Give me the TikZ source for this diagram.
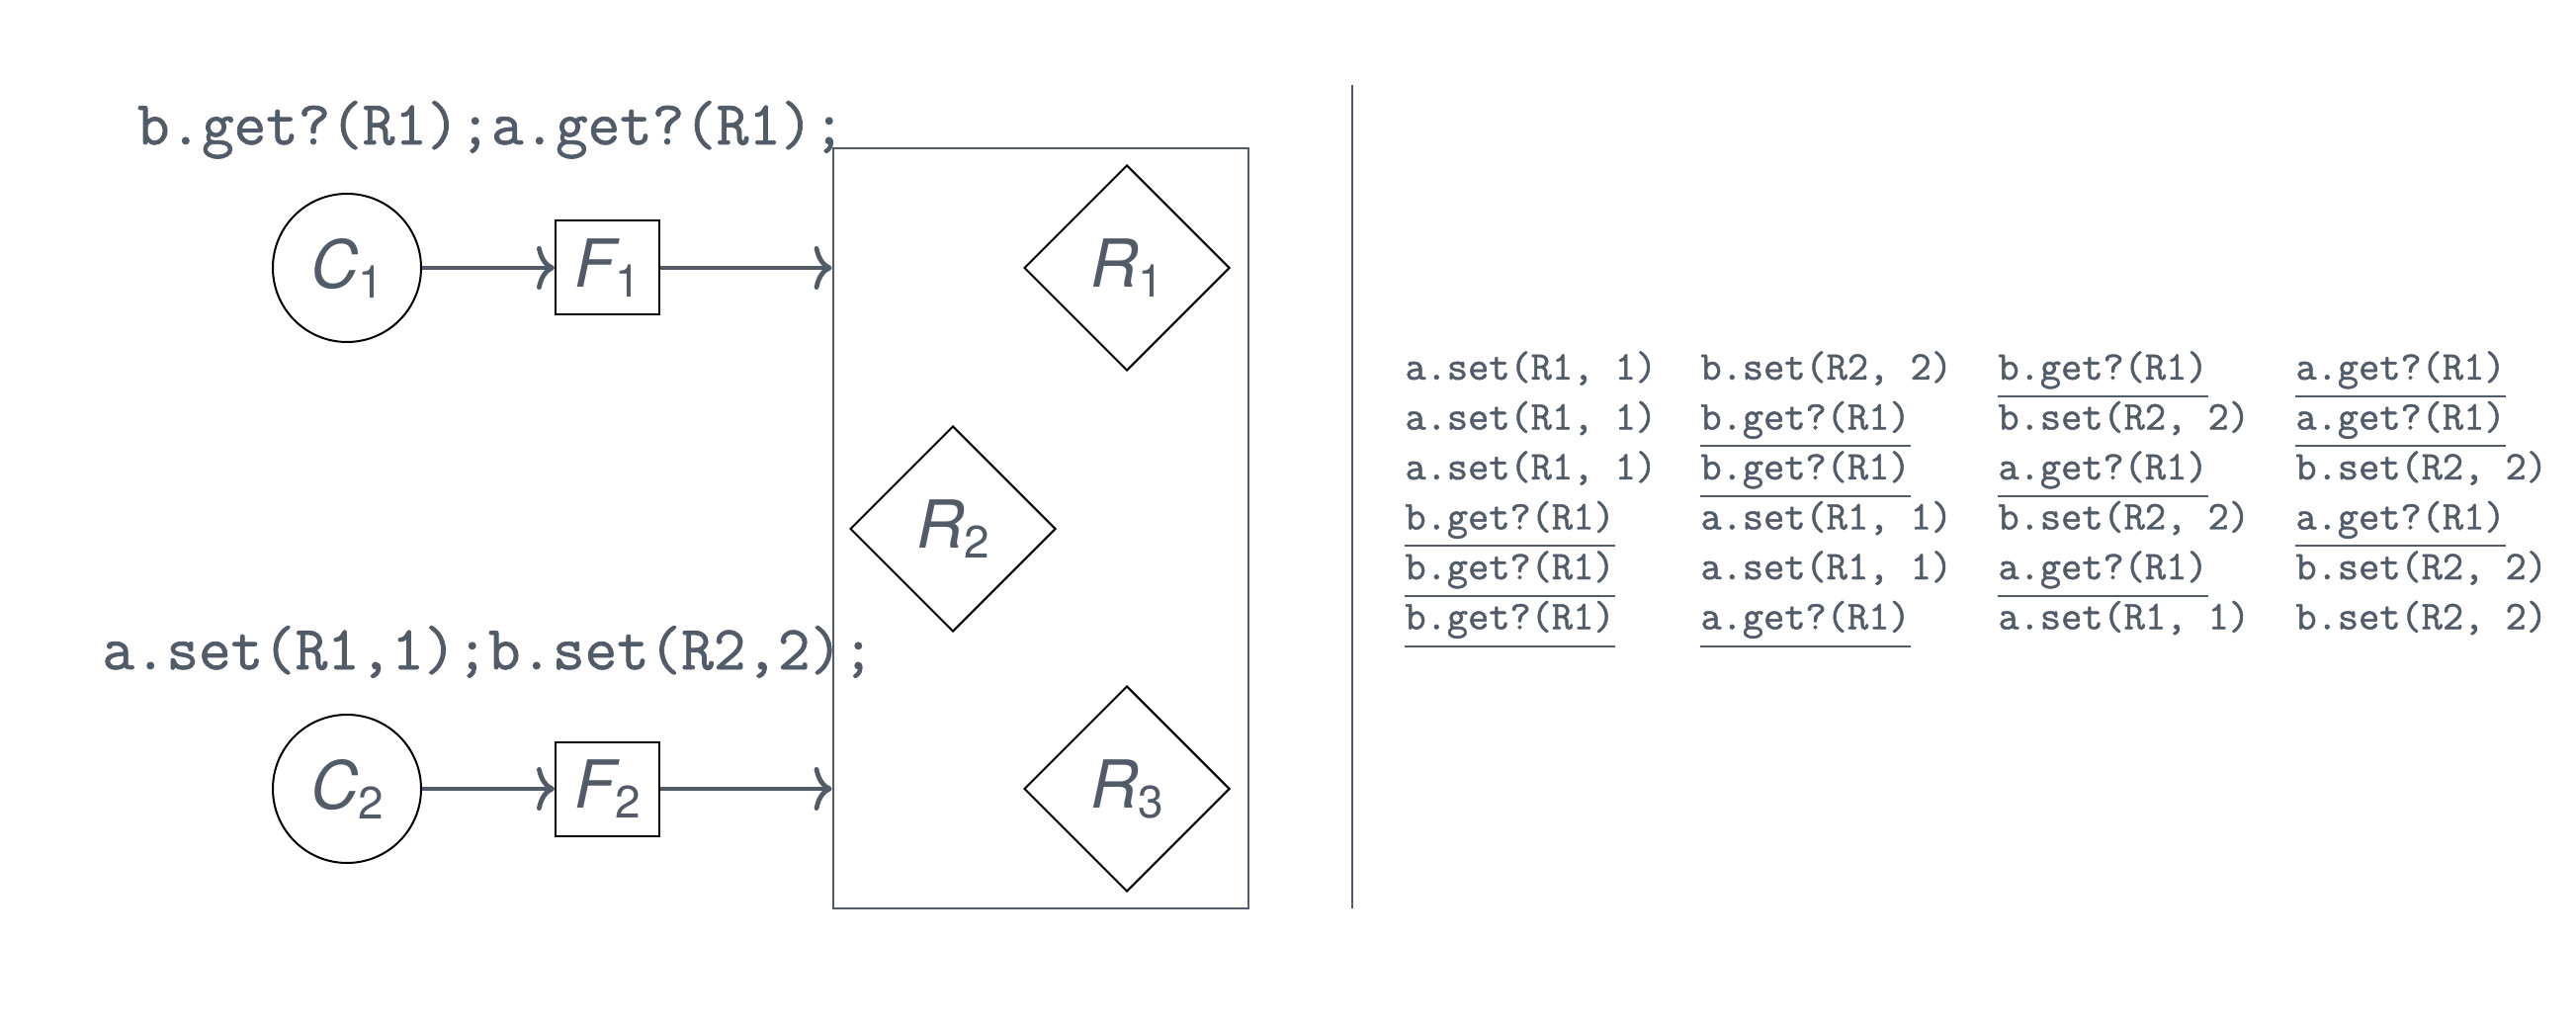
\documentclass[tikz,border=0pt]{standalone}
\usepackage{fontspec}
\newfontfamily\heros{TeX Gyre Heros}
\newfontfamily\mono[FakeBold=1.2]{Latin Modern Mono}
\usetikzlibrary{shapes.geometric,arrows.meta}
\definecolor{slate}{HTML}{525C69}
\newcommand\lab[2]{{\heros\fontsize{33.5pt}{36pt}\selectfont\itshape #1}{\heros\fontsize{23pt}{25pt}\selectfont\raisebox{-5pt}{#2}}}
\begin{document}
\begin{tikzpicture}[x=0.5pt,y=-0.5pt,
  client/.style={circle, draw=black, line width=1pt, minimum size=75pt, inner sep=0pt, text=slate},
  filt/.style={rectangle, draw=black, line width=1pt, minimum width=52.5pt, minimum height=47.5pt, inner sep=0pt, text=slate},
  res/.style={diamond, draw=black, line width=1pt, minimum width=104pt, minimum height=104pt, inner sep=0pt, text=slate},
  flow/.style={draw=slate, line width=2.4pt, -{Computer Modern Rightarrow[length=9pt,width=22pt]}},
  code/.style={text=slate, font=\fontsize{31.6pt}{34pt}\selectfont\mono\bfseries, inner sep=0pt, anchor=base},
  op/.style={text=slate, font=\fontsize{20.6pt}{22pt}\selectfont\mono\bfseries, inner sep=0pt, anchor=base west},
  uline/.style={draw=slate, line width=1pt}]
\useasboundingbox (0,0) rectangle (2606,1042);

% left part
\node[code] (top) at (497,146) {b.get?(R1);a.get?(R1);};
\node[code] (bot) at (494,677) {a.set(R1,1);b.set(R2,2);};

\node[draw=slate, line width=1.4pt, minimum width=210pt, minimum height=384.5pt, inner sep=0pt] (box) at (1053,534.5) {};

\node[client] (C1) at (351,271) {\lab{C}{1}};
\node[filt] (F1) at (614.5,271) {\lab{F}{1}};
\node[client] (C2) at (351,798) {\lab{C}{2}};
\node[filt] (F2) at (614.5,798) {\lab{F}{2}};

\node[res] (R1) at (1140,271) {\lab{R}{1}};
\node[res] (R2) at (964,535) {\lab{R}{2}};
\node[res] (R3) at (1140,798) {\lab{R}{3}};

\draw[flow] (C1) -- (F1);
\draw[flow] (F1) -- (F1 -| box.west);
\draw[flow] (C2) -- (F2);
\draw[flow] (F2) -- (F2 -| box.west);

% separator
\coordinate (sepT) at (1368,86);
\coordinate (sepB) at (1368,919);
\draw[draw=slate, line width=1.2pt] (sepT) -- (sepB);

% table
\node[op] (t11) at (1421,384) {a.set(R1, 1)};
\node[op] (t12) at (1720,384) {b.set(R2, 2)};
\node[op] (t13) at (2021,384) {b.get?(R1)};
\node[op] (t14) at (2322,384) {a.get?(R1)};

\node[op] (t21) at (1421,434.5) {a.set(R1, 1)};
\node[op] (t22) at (1720,434.5) {b.get?(R1)};
\node[op] (t23) at (2021,434.5) {b.set(R2, 2)};
\node[op] (t24) at (2322,434.5) {a.get?(R1)};

\node[op] (t31) at (1421,485) {a.set(R1, 1)};
\node[op] (t32) at (1720,485) {b.get?(R1)};
\node[op] (t33) at (2021,485) {a.get?(R1)};
\node[op] (t34) at (2322,485) {b.set(R2, 2)};

\node[op] (t41) at (1421,535.5) {b.get?(R1)};
\node[op] (t42) at (1720,535.5) {a.set(R1, 1)};
\node[op] (t43) at (2021,535.5) {b.set(R2, 2)};
\node[op] (t44) at (2322,535.5) {a.get?(R1)};

\node[op] (t51) at (1421,586) {b.get?(R1)};
\node[op] (t52) at (1720,586) {a.set(R1, 1)};
\node[op] (t53) at (2021,586) {a.get?(R1)};
\node[op] (t54) at (2322,586) {b.set(R2, 2)};

\node[op] (t61) at (1421,636.5) {b.get?(R1)};
\node[op] (t62) at (1720,636.5) {a.get?(R1)};
\node[op] (t63) at (2021,636.5) {a.set(R1, 1)};
\node[op] (t64) at (2322,636.5) {b.set(R2, 2)};

\foreach \n in {t13,t14,t22,t24,t32,t33,t41,t44,t51,t53,t61,t62}
  \draw[uline] ([yshift=-8.5pt]\n.base west) -- ([yshift=-8.5pt]\n.base east);
\end{tikzpicture}
\end{document}
